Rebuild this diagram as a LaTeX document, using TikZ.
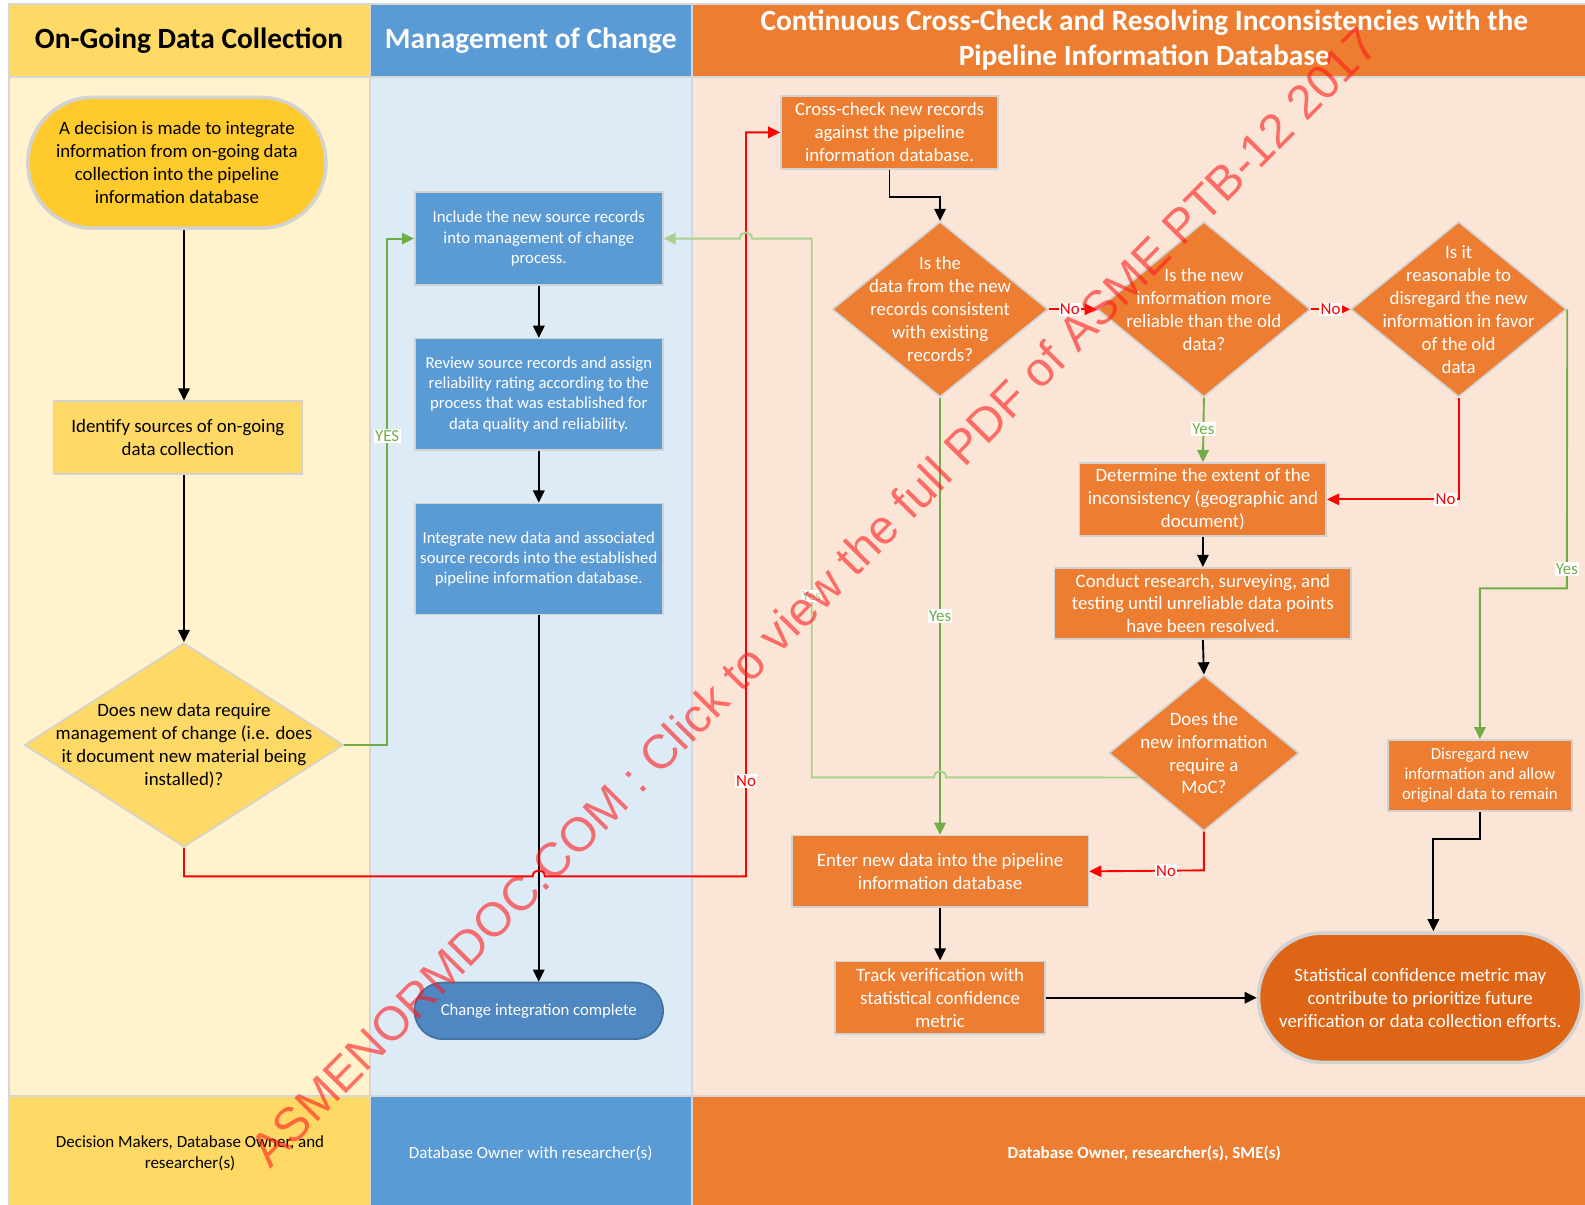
\documentclass[tikz,border=0pt]{standalone}
\usepackage{fontspec}
\setmainfont{Carlito}
\newfontfamily\wmfont{Liberation Sans}
\usetikzlibrary{shapes.geometric,arrows.meta,calc}
\definecolor{hdrY}{HTML}{FFD966}
\definecolor{bodyY}{HTML}{FFF2CC}
\definecolor{hdrB}{HTML}{5B9BD5}
\definecolor{bodyB}{HTML}{DDEBF7}
\definecolor{hdrO}{HTML}{ED7D31}
\definecolor{bodyO}{HTML}{FBE5D6}
\definecolor{gridgrey}{HTML}{D6D6D6}
\definecolor{bord}{HTML}{D2D2D2}
\definecolor{startfill}{HTML}{FFCA2C}
\definecolor{statfill}{HTML}{DE6516}
\definecolor{compfill}{HTML}{4F87C3}
\definecolor{compbord}{HTML}{41719C}
\definecolor{grn}{HTML}{70AD47}
\definecolor{lgrn}{HTML}{A9D18E}
\definecolor{wmred}{HTML}{FF1A1A}
\newcommand{\fntBig}{\fontsize{14pt}{17pt}\selectfont}
\newcommand{\fntMid}{\fontsize{14pt}{17pt}\selectfont}
\newcommand{\fntSm}{\fontsize{12.4pt}{15pt}\selectfont}
\newcommand{\fntLbl}{\fontsize{12.5pt}{14pt}\selectfont}
\newcommand{\fntHdr}{\fontsize{21.8pt}{26pt}\selectfont\bfseries}
\newcommand{\fntFoot}{\fontsize{12.6pt}{15pt}\selectfont}
\begin{document}
\begin{tikzpicture}[x=0.75pt,y=-0.75pt,
  pbox/.style={draw=bord, line width=1.2pt, align=center, inner sep=2pt},
  ybox/.style={pbox, fill=hdrY, text=black, font=\fntBig},
  bbox/.style={pbox, fill=hdrB, text=white, font=\fntSm, minimum width=184pt},
  obox/.style={pbox, fill=hdrO, text=white, font=\fntBig},
  dia/.style={diamond, draw=bord, line width=1.2pt, inner sep=0pt},
  dtxt/.style={align=center, inner sep=0pt, font=\fntBig},
  lbl/.style={fill=white, inner sep=1pt, font=\fntLbl},
  arr/.style={line width=1.4pt, -{Triangle[length=9pt,width=8.5pt]}},
  plain/.style={line width=1.4pt},
  hdrtxt/.style={align=center, font=\fntHdr},
  foottxt/.style={align=center, font=\fntFoot}]
\useasboundingbox (0,0) rectangle (1568,1192);
% lanes
\fill[gridgrey] (8,3) rectangle (1568,1192);
\fill[hdrY] (10,5) rectangle (365,75);
\fill[hdrB] (367,5) rectangle (684,75);
\fill[hdrO] (686,5) rectangle (1568,75);
\fill[bodyY] (10,77) rectangle (365,1083);
\fill[bodyB] (367,77) rectangle (684,1083);
\fill[bodyO] (686,77) rectangle (1568,1083);
\fill[hdrY] (10,1085) rectangle (365,1192);
\fill[hdrB] (367,1085) rectangle (684,1192);
\fill[hdrO] (686,1085) rectangle (1568,1192);
\node[hdrtxt, text=black] (h1) at (187,40) {On-Going Data Collection};
\node[hdrtxt, text=white] (h2) at (525,40) {Management of Change};
\node[hdrtxt, text=white] (h3) at (1132,40) {Continuous Cross-Check and Resolving Inconsistencies with the\\Pipeline Information Database};
\node[foottxt, text=black] (f1) at (188,1141) {Decision Makers, Database Owner, and\\researcher(s)};
\node[foottxt, text=white] (f2) at (525,1141) {Database Owner with researcher(s)};
\node[foottxt, text=white, font=\fntFoot\bfseries] (f3) at (1132,1141) {Database Owner, researcher(s), SME(s)};
% lane 1
\node[pbox, fill=startfill, draw=bord, line width=2.6pt, rounded corners=48pt, minimum width=221pt, minimum height=97pt, font=\fntBig] (start) at (175,161) {A decision is made to integrate\\information from on-going data\\collection into the pipeline\\information database};
\node[ybox, minimum width=184.5pt, minimum height=54pt] (ident) at (176,433) {Identify sources of on-going\\data collection};
\node[dia, fill=hdrY, minimum width=237pt, minimum height=151.5pt] (d1) at (182,737) {};
\node[dtxt, text=black] (d1t) at (182,738) {Does new data require\\management of change (i.e. does\\it document new material being\\installed)?};
% lane 2
\node[bbox, minimum height=69pt] (incl) at (533,236) {Include the new source records\\into management of change\\process.};
\node[bbox, minimum height=82.5pt] (review) at (533,390) {Review source records and assign\\reliability rating according to the\\process that was established for\\data quality and reliability.};
\node[bbox, minimum height=82.5pt] (integ) at (533,553) {Integrate new data and associated\\source records into the established\\pipeline information database.};
\node[pbox, fill=compfill, draw=compbord, text=white, font=\fntSm, rounded corners=21pt, minimum width=184.5pt, minimum height=42pt] (complete) at (533,1000) {Change integration complete};
% lane 3
\node[obox, minimum width=161pt, minimum height=54pt] (cross) at (880,131) {Cross-check new records\\against the pipeline\\information database.};
\node[dia, fill=hdrO, minimum width=160pt, minimum height=130pt] (dcons) at (930,306) {};
\node[dtxt, text=white] (dconst) at (930,306) {Is the\\data from the new\\records consistent\\with existing\\records?};
\node[dia, fill=hdrO, minimum width=158pt, minimum height=130pt] (dreli) at (1191,306) {};
\node[dtxt, text=white] (drelit) at (1191,306) {Is the new\\information more\\reliable than the old\\data?};
\node[dia, fill=hdrO, minimum width=160pt, minimum height=130pt] (dreas) at (1443,306) {};
\node[dtxt, text=white, font=\fntMid] (dreast) at (1443,306) {Is it\\reasonable to\\disregard the new\\information in favor\\of the old\\data};
\node[obox, minimum width=183pt, minimum height=54pt] (determ) at (1190,494) {Determine the extent of the\\inconsistency (geographic and\\document)};
\node[obox, minimum width=220pt, minimum height=53pt] (conduct) at (1190,597) {Conduct research, surveying, and\\testing until unreliable data points\\have been resolved.};
\node[dia, fill=hdrO, minimum width=141pt, minimum height=115.5pt] (dmoc) at (1191,745) {};
\node[dtxt, text=white] (dmoct) at (1191,745) {Does the\\new information\\require a\\MoC?};
\node[obox, font=\fontsize{12.5pt}{15pt}\selectfont, minimum width=136.5pt, minimum height=52.5pt] (disreg) at (1464,767) {Disregard new\\information and allow\\original data to remain};
\node[obox, minimum width=220pt, minimum height=53pt] (enter) at (930,862) {Enter new data into the pipeline\\information database};
\node[obox, minimum width=156pt, minimum height=54pt] (track) at (930,987) {Track verification with\\statistical confidence\\metric};
\node[pbox, fill=statfill, draw=bord, line width=2.6pt, text=white, rounded corners=48pt, minimum width=240pt, minimum height=96pt, font=\fntBig] (stat) at (1405,987) {Statistical confidence metric may\\contribute to prioritize future\\verification or data collection efforts.};
% helper coordinates
\coordinate (colA) at (182,0);
\coordinate (sx) at (1418,830);
\coordinate (mocleft) at ($(dmoc.west)!0.31!(dmoc.south)$);
% black connectors
\draw[arr] (start.south -| colA) -- (ident.north -| colA);
\draw[arr] (ident.south -| colA) -- (d1.north);
\draw[arr] (incl.south) -- (review.north);
\draw[arr] (review.south) -- (integ.north);
\draw[arr] (integ.south) -- (complete.north);
\draw[arr] (cross.south) -- (880,195) -- (930,195) -- (dcons.north);
\draw[arr] (determ.south) -- (conduct.north);
\draw[arr] (conduct.south) -- (dmoc.north);
\draw[arr] (enter.south) -- (track.north);
\draw[arr] (track.east) -- (stat.west);
\draw[arr] (disreg.south) -- (1464,830) -- (sx) -- (stat.north -| sx);
% red connectors
\draw[arr, red] (d1.south) -- (182,867) -- (527,867) .. controls (527,859) and (539,859) .. (539,867) -- (738,867) -- node[lbl, pos=0.128, text=red]{No} (738,131) -- (cross.west);
\draw[arr, red] (dcons.east) -- node[lbl, pos=0.44, text=red]{No} (dreli.west);
\draw[arr, red] (dreli.east) -- node[lbl, pos=0.5, text=red]{No} (dreas.west);
\draw[arr, red] (dreas.south) -- (1443,494) -- node[lbl, pos=0.1, text=red]{No} (determ.east);
\draw[arr, red] (dmoc.south) -- (1191,861) -- node[lbl, pos=0.33, text=red]{No} (enter.east);
% green connectors
\draw[arr, grn] (d1.east) -- (383,737) -- node[lbl, pos=0.61, text=grn]{YES} (383,236) -- (incl.west);
\draw[arr, grn] (dcons.south) -- node[lbl, pos=0.5, text=grn]{Yes} (enter.north);
\draw[arr, grn] (dreli.south) -- node[lbl, pos=0.49, text=grn]{Yes} (determ.north);
\draw[arr, grn] (dreas.east) -- node[lbl, pos=0.93, text=grn]{Yes} (1550,582) -- (1464,582) -- (disreg.north);
\draw[arr, lgrn] (mocleft) -- (936,769) .. controls (936,761) and (924,761) .. (924,769) -- (803,769) -- node[lbl, pos=0.336, text=lgrn, font=\fontsize{10.5pt}{12pt}\selectfont]{Yes} (803,236) -- (744,236) .. controls (744,228) and (732,228) .. (732,236) -- (incl.east);
% watermark
\node[rotate=45.3, text=wmred, opacity=0.6, font=\fontsize{35.5pt}{40pt}\selectfont\wmfont, inner sep=0pt] (wm) at (805,590) {ASMENORMDOC.COM : Click to view the full PDF of ASME PTB-12 2017};
\end{tikzpicture}
\end{document}
